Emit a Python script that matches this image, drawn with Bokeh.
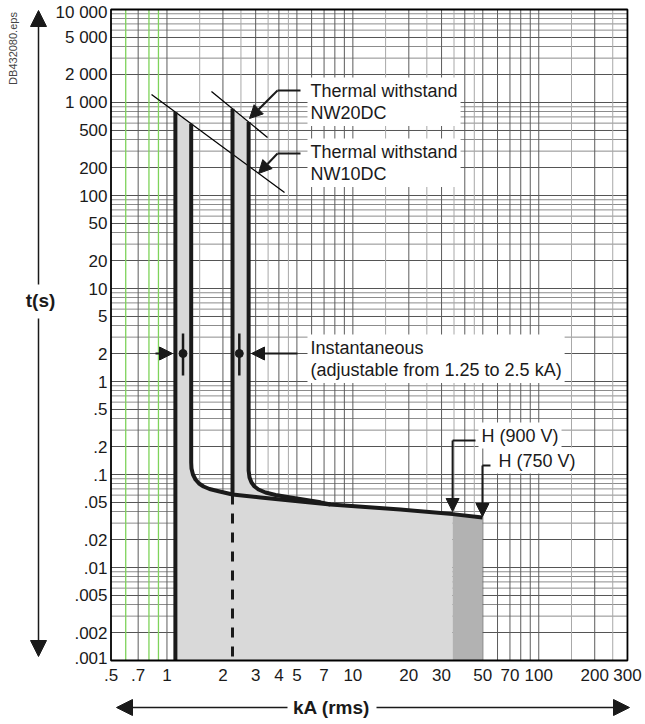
import numpy as np
from bokeh.plotting import figure
from bokeh.models import Range1d, Label, Arrow, NormalHead
from bokeh.core.properties import value
from bokeh.embed import file_html
from bokeh.resources import INLINE

# ---------------- data ----------------
X_TICKS = [0.5, 0.7, 1, 2, 3, 4, 5, 7, 10, 20, 30, 50, 70, 100, 200, 300]
X_LABELS = [".5", ".7", "1", "2", "3", "4", "5", "7", "10", "20", "30", "50", "70", "100", "200", "300"]
Y_TICKS = [10000, 5000, 2000, 1000, 500, 200, 100, 50, 20, 10, 5, 2, 1,
           0.5, 0.2, 0.1, 0.05, 0.02, 0.01, 0.005, 0.002, 0.001]
Y_LABELS = ["10 000", "5 000", "2 000", "1 000", "500", "200", "100", "50", "20", "10", "5", "2", "1",
            ".5", ".2", ".1", ".05", ".02", ".01", ".005", ".002", ".001"]

X_GRID_DARK = [0.7, 1, 2, 3, 4, 5, 6, 7, 8, 9, 10, 20, 30, 40, 50, 60, 70, 80, 90, 100, 200]
X_GRID_LIGHT = [1.5, 2.5, 3.5, 4.5, 15, 25, 35, 45, 150, 250]
X_GRID_GREEN = [0.6, 0.8, 0.9]
Y_DECADES = [0.001, 0.01, 0.1, 1, 10, 100, 1000]
Y_GRID_DARK_MULT = [1, 2, 5]
Y_GRID_LIGHT_MULT = [3, 4, 6, 7, 8, 9]

# thermal withstand lines (kA, s)
NW10_TH_KA = [0.826, 4.29]
NW10_TH_S = [1219, 107.6]
NW20_TH_KA = [1.736, 3.475]
NW20_TH_S = [1313, 421]

# NW10DC settings
NW10_MIN_KA = 1.11
NW10_MAX_KA = [1.35, 1.35, 1.355, 1.38, 1.424, 1.4875, 1.573, 1.694, 1.871, 2.252, 3.185, 5.22, 7.58]
NW10_MAX_S = [None, 0.1346, 0.1161, 0.100, 0.0884, 0.080, 0.0743, 0.0698, 0.0665, 0.061, 0.0566, 0.0513, 0.0476]
# NW20DC settings
NW20_MIN_KA = 2.252
NW20_MIN_CURVE_S = 0.061
NW20_MAX_KA = [2.75, 2.75, 2.78, 2.85, 2.957, 3.108, 3.39, 3.836, 4.62, 6.70, 7.58]
NW20_MAX_S = [None, 0.1104, 0.0929, 0.082, 0.0743, 0.069, 0.064, 0.0602, 0.0566, 0.0502, 0.0476]
# common tail (to H 900 V and H 750 V breaking)
TAIL_KA = [7.58, 18.0, 34.4, 49.8]
TAIL_S = [0.0476, 0.042, 0.0375, 0.0345]
H900_KA = 34.4
H750_KA = 49.8

# instantaneous setting marks
INST_KA = [1.22, 2.45]
INST_S = 2.0
INST_LO = 1.16
INST_HI = 3.28

T_MIN, T_MAX = 0.001, 10000
K_MIN, K_MAX = 0.5, 300

FONT = "Liberation Sans"
INK = "#1a1a1a"

# ---------------- layout (page pixels <-> data) ----------------
W, H = 644, 722
XPX0, XDEC = 110.5, 185.9   # pixel of 0.5 kA, pixels per decade
YPX0, YDEC = 9.0, 93.0      # pixel of 10 000 s, pixels per decade


def kx(px):
    return 0.5 * 10 ** ((px - XPX0) / XDEC)


def ty(py):
    return 10 ** (4 - (py - YPX0) / YDEC)


def th(k, ka, s):
    return float(10 ** np.interp(np.log10(k), np.log10(ka), np.log10(s)))


def th10(k):
    return th(k, NW10_TH_KA, NW10_TH_S)


def th20(k):
    return th(k, NW20_TH_KA, NW20_TH_S)


NW10_MAX_S[0] = th10(NW10_MAX_KA[0])
NW20_MAX_S[0] = th20(NW20_MAX_KA[0])
H900_S = th(H900_KA, TAIL_KA, TAIL_S)

# ---------------- figure ----------------
p = figure(width=W, height=H, x_axis_type="log", y_axis_type="log",
           x_axis_location=None, y_axis_location=None,
           x_range=Range1d(kx(0), kx(W)), y_range=Range1d(ty(H), ty(0)),
           output_backend="svg", toolbar_location=None, min_border=0)
p.background_fill_color = "white"
p.border_fill_color = "white"
p.outline_line_color = None
p.xgrid.visible = False
p.ygrid.visible = False


def vgrid(ticks, color, width=1.0):
    n = len(ticks)
    p.segment(x0=ticks, y0=[T_MIN] * n, x1=ticks, y1=[T_MAX] * n, line_color=color, line_width=width)


def hgrid(ticks, color, width=1.0):
    n = len(ticks)
    p.segment(x0=[K_MIN] * n, y0=ticks, x1=[K_MAX] * n, y1=ticks, line_color=color, line_width=width)


hgrid([d * m for d in Y_DECADES for m in Y_GRID_LIGHT_MULT], "#8c8c8c")
hgrid([d * m for d in Y_DECADES for m in Y_GRID_DARK_MULT], "#555555")
vgrid(X_GRID_LIGHT, "#a8a8a8")
vgrid(X_GRID_DARK, "#5c5c5c")
vgrid(X_GRID_GREEN, "#7ed35a", 1.3)

# ---------------- fills ----------------
i10 = NW10_MAX_KA.index(NW20_MIN_KA) + 1
fill_k = ([NW10_MIN_KA] + NW10_MAX_KA[:i10] + [NW20_MIN_KA] + NW20_MAX_KA + TAIL_KA[1:3]
          + [H900_KA, NW10_MIN_KA])
fill_t = ([th10(NW10_MIN_KA)] + NW10_MAX_S[:i10] + [th20(NW20_MIN_KA)] + NW20_MAX_S + TAIL_S[1:3]
          + [T_MIN, T_MIN])
p.patch(fill_k, fill_t, fill_color="#d9d9d9", line_color=None)
p.patch([H900_KA, H900_KA, H750_KA, H750_KA], [T_MIN, H900_S, TAIL_S[-1], T_MIN],
        fill_color="#b2b2b2", line_color=None)

# ---------------- curves ----------------
LW = 4
p.line(NW10_TH_KA, NW10_TH_S, line_color="black", line_width=1.3)
p.line(NW20_TH_KA, NW20_TH_S, line_color="black", line_width=1.3)
p.line([NW10_MIN_KA, NW10_MIN_KA], [th10(NW10_MIN_KA), T_MIN], line_color=INK, line_width=LW)
p.line(NW10_MAX_KA + TAIL_KA[1:], NW10_MAX_S + TAIL_S[1:], line_color=INK, line_width=LW,
       line_join="round")
p.line(NW20_MAX_KA, NW20_MAX_S, line_color=INK, line_width=LW, line_join="round")
p.line([NW20_MIN_KA, NW20_MIN_KA], [th20(NW20_MIN_KA), NW20_MIN_CURVE_S], line_color=INK, line_width=LW)
p.line([NW20_MIN_KA, NW20_MIN_KA], [NW20_MIN_CURVE_S, T_MIN], line_color=INK, line_width=3,
       line_dash="10 9")

# instantaneous marks
p.segment(INST_KA, [INST_LO] * 2, INST_KA, [INST_HI] * 2, line_color=INK, line_width=2.5)
p.scatter(INST_KA, [INST_S] * 2, size=8, color=INK)

# plot box
p.quad(left=K_MIN, right=K_MAX, bottom=T_MIN, top=T_MAX, fill_color=None,
       line_color="black", line_width=1.8)

# tick labels
p.text(x=X_TICKS, y=[ty(674)] * len(X_TICKS), text=X_LABELS, text_align="center",
       text_baseline="middle", text_font=value(FONT), text_font_size="17px", text_color=INK)
y_off = [3] + [0] * (len(Y_TICKS) - 2) + [-3]
p.text(x=[kx(107)] * len(Y_TICKS), y=Y_TICKS, text=Y_LABELS, y_offset=y_off, text_align="right",
       text_baseline="middle", text_font=value(FONT), text_font_size="17px", text_color=INK)


# ---------------- annotations ----------------
def arrow(x0, y0, x1, y1, size=13, lw=2):
    p.add_layout(Arrow(end=NormalHead(size=size, fill_color=INK, line_color=INK, line_width=1),
                       x_start=x0, y_start=y0, x_end=x1, y_end=y1, line_color=INK, line_width=lw))


def note(px, py, text, baseline="top"):
    p.add_layout(Label(x=kx(px), y=ty(py), text=text, text_font=FONT, text_font_size="18px",
                       text_color=INK, text_baseline=baseline, text_align="left",
                       background_fill_color="white", padding=3, text_line_height=1.12))


# thermal withstand
p.line([kx(300), kx(277)], [ty(90), ty(90)], line_color=INK, line_width=2)
arrow(kx(277), ty(90), kx(249), ty(118))
p.line([kx(300), kx(277)], [ty(153), ty(153)], line_color=INK, line_width=2)
arrow(kx(277), ty(153), kx(258), ty(173))
note(307, 77, "Thermal withstand\nNW20DC")
note(307, 138, "Thermal withstand\nNW10DC")

# instantaneous
arrow(kx(297), INST_S, kx(251), INST_S)
arrow(kx(155), INST_S, kx(172), INST_S)
note(307, 334, "Instantaneous\n(adjustable from 1.25 to 2.5 kA)")

# H (900 V) / H (750 V)
p.line([kx(475), H900_KA], [ty(440), ty(440)], line_color=INK, line_width=2)
arrow(H900_KA, ty(440), H900_KA, ty(511))
note(478, 435, "H (900 V)", baseline="middle")
p.line([kx(490), H750_KA], [ty(465), ty(465)], line_color=INK, line_width=2)
arrow(H750_KA, ty(465), H750_KA, ty(516))
note(495, 460, "H (750 V)", baseline="middle")

# outer axis arrows and titles
AXX = kx(38)
arrow(AXX, ty(284), AXX, ty(10), size=16, lw=1.5)
arrow(AXX, ty(318), AXX, ty(656), size=16, lw=1.5)
p.add_layout(Label(x=kx(40), y=ty(300), text="t(s)", text_font=FONT, text_font_size="19px",
                   text_font_style="bold", text_color=INK, text_align="center",
                   text_baseline="middle"))
AXY = ty(707)
arrow(kx(287), AXY, kx(116), AXY, size=16, lw=1.5)
arrow(kx(376), AXY, kx(629), AXY, size=16, lw=1.5)
p.add_layout(Label(x=kx(331), y=AXY, text="kA (rms)", text_font=FONT, text_font_size="19px",
                   text_font_style="bold", text_color=INK, text_align="center",
                   text_baseline="middle"))
p.add_layout(Label(x=kx(12), y=ty(48), text="DB432080.eps", text_font=FONT, text_font_size="11px",
                   text_color="#444444", text_align="center", text_baseline="middle",
                   angle=np.pi / 2))

open("out.html", "w").write(file_html(p, INLINE))
